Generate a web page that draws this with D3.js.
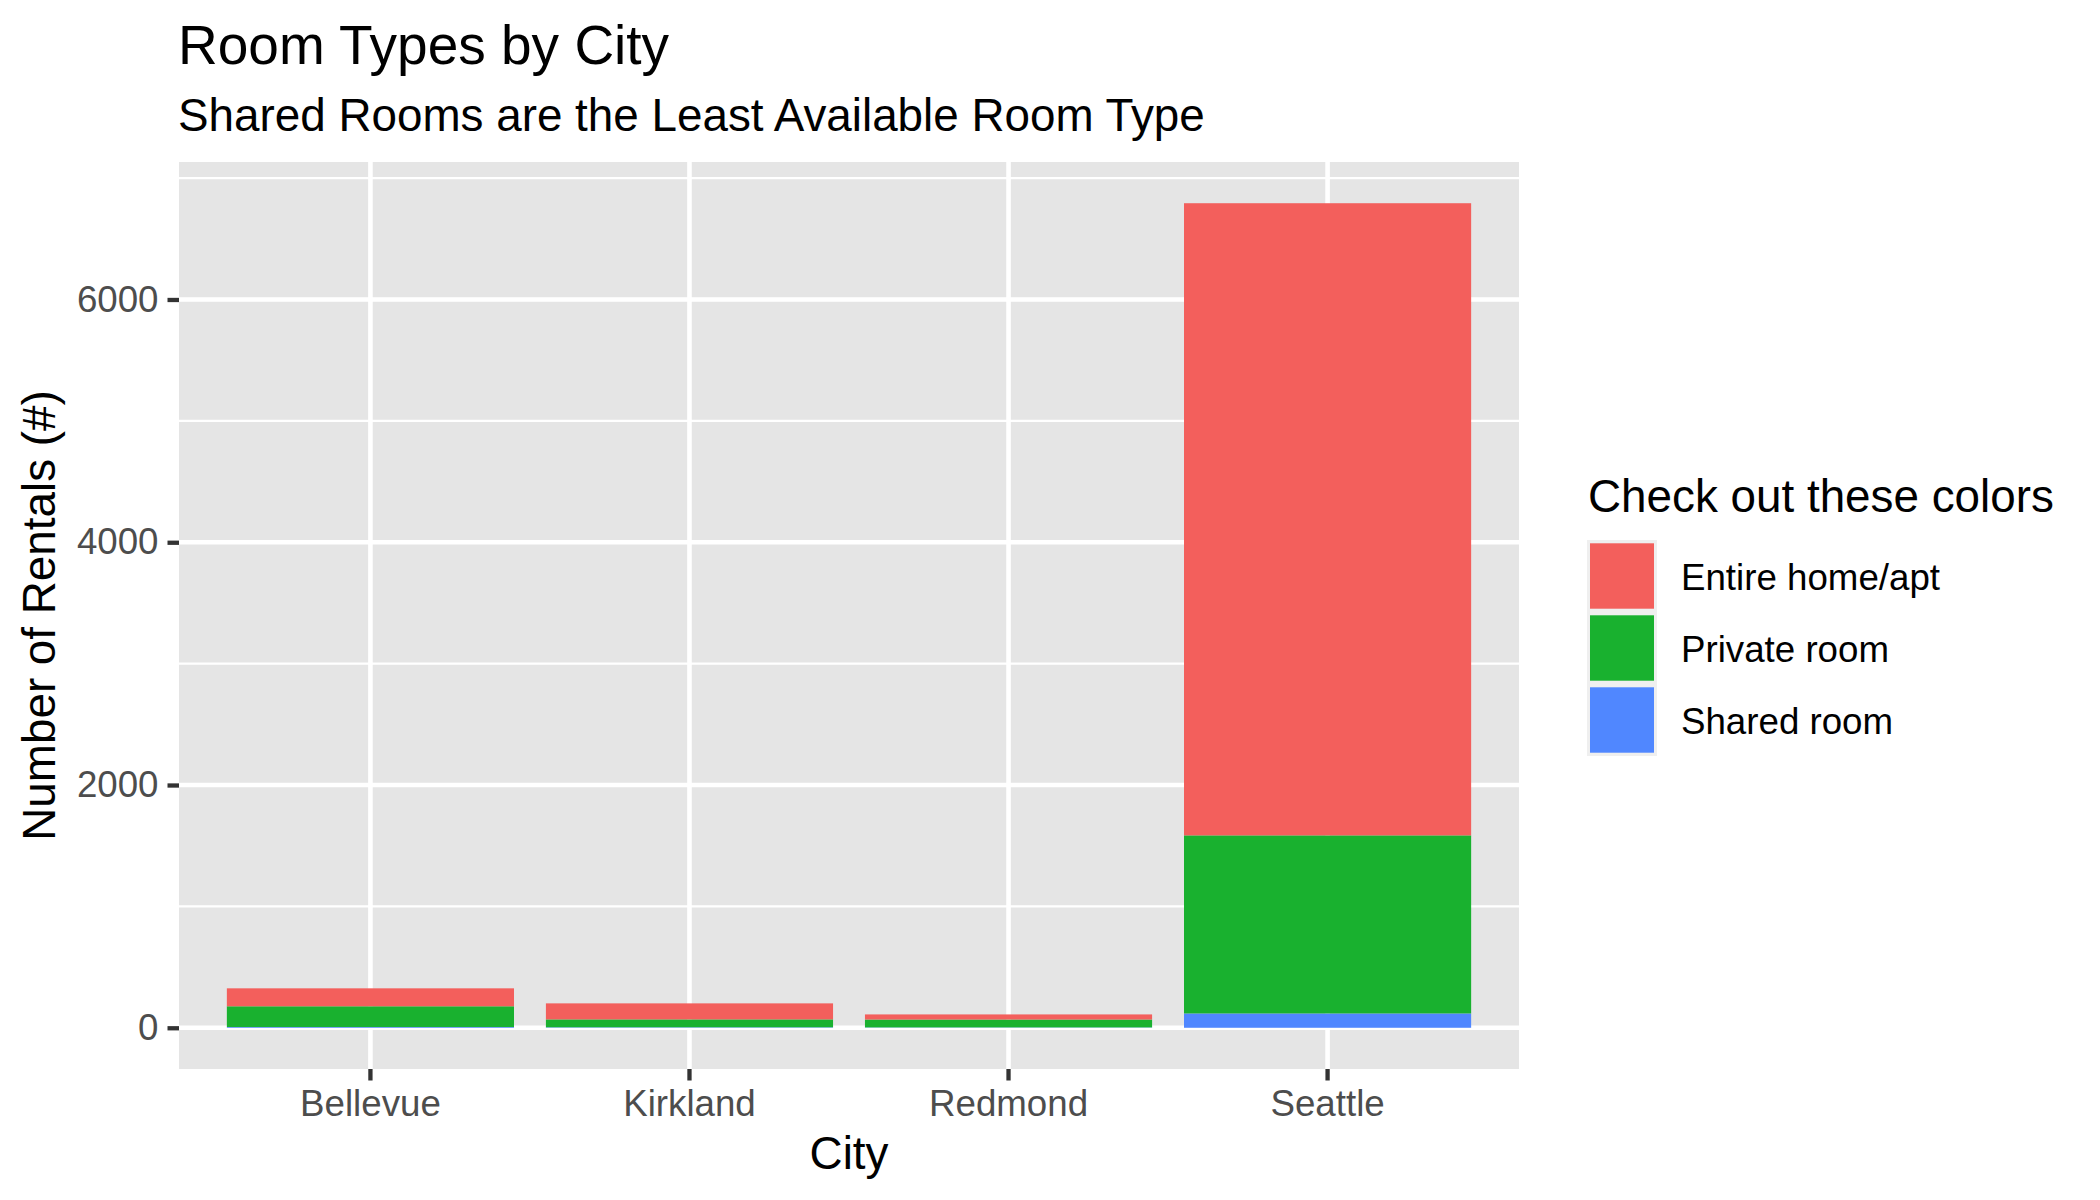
<!DOCTYPE html>
<html>
<head>
<meta charset="utf-8">
<script src="https://cdn.jsdelivr.net/npm/d3@7"></script>
<style>
  body { margin: 0; background: #fff; }
  text { font-family: "Liberation Sans", Arial, Helvetica, sans-serif; }
</style>
</head>
<body>
<div id="container"></div>
<script>
// data
const cities = ["Bellevue", "Kirkland", "Redmond", "Seattle"];
const roomTypes = ["Entire home/apt", "Private room", "Shared room"];
const entireHome = [148, 132, 42, 5208];
const privateRoom = [171, 65, 65, 1467];
const sharedRoom = [6, 4, 3, 118];
const yTicks = [0, 2000, 4000, 6000];
const yMinorTicks = [1000, 3000, 5000, 7000];
const colors = ["#F35F5C", "#19B12F", "#5087FF"];

const W = 2100, H = 1200;
const panel = { left: 179, right: 1519, top: 162, bottom: 1069 };

const svg = d3.create("svg")
  .attr("width", W)
  .attr("height", H);
document.getElementById("container").append(svg.node());

// rows for stacking (shared at bottom, entire home on top like ggplot)
const rows = cities.map((c, i) => ({
  city: c,
  "Entire home/apt": entireHome[i],
  "Private room": privateRoom[i],
  "Shared room": sharedRoom[i]
}));
const stack = d3.stack().keys(roomTypes.slice().reverse())(rows);
const maxTotal = d3.max(rows, d => d["Entire home/apt"] + d["Private room"] + d["Shared room"]);
const pad = maxTotal * 0.05;

const x = d3.scaleBand()
  .domain(cities)
  .range([panel.left, panel.right])
  .paddingInner(0.1)
  .paddingOuter(0.15);

const y = d3.scaleLinear()
  .domain([-pad, maxTotal + pad])
  .range([panel.bottom, panel.top]);

const color = d3.scaleOrdinal().domain(roomTypes).range(colors);

// panel background
svg.append("rect")
  .attr("x", panel.left).attr("y", panel.top)
  .attr("width", panel.right - panel.left)
  .attr("height", panel.bottom - panel.top)
  .attr("fill", "#e5e5e5");

// grid lines
svg.append("g").selectAll("line")
  .data(yMinorTicks.filter(t => y(t) > panel.top))
  .join("line")
  .attr("x1", panel.left).attr("x2", panel.right)
  .attr("y1", d => y(d)).attr("y2", d => y(d))
  .attr("stroke", "#fff").attr("stroke-width", 2.3);

svg.append("g").selectAll("line")
  .data(yTicks)
  .join("line")
  .attr("x1", panel.left).attr("x2", panel.right)
  .attr("y1", d => y(d)).attr("y2", d => y(d))
  .attr("stroke", "#fff").attr("stroke-width", 4.6);

svg.append("g").selectAll("line")
  .data(cities)
  .join("line")
  .attr("x1", d => x(d) + x.bandwidth() / 2).attr("x2", d => x(d) + x.bandwidth() / 2)
  .attr("y1", panel.top).attr("y2", panel.bottom)
  .attr("stroke", "#fff").attr("stroke-width", 4.6);

// stacked bars
svg.append("g").selectAll("g")
  .data(stack)
  .join("g")
  .attr("fill", d => color(d.key))
  .selectAll("rect")
  .data(d => d)
  .join("rect")
  .attr("x", d => x(d.data.city))
  .attr("width", x.bandwidth())
  .attr("y", d => y(d[1]))
  .attr("height", d => y(d[0]) - y(d[1]));

// y axis
const yAxis = svg.append("g")
  .attr("transform", `translate(${panel.left},0)`)
  .call(d3.axisLeft(y).tickValues(yTicks).tickSize(11.5).tickPadding(9).tickFormat(d3.format("d")));
yAxis.select(".domain").remove();
yAxis.selectAll(".tick line").attr("stroke", "#333333").attr("stroke-width", 4.3);
yAxis.selectAll(".tick text")
  .attr("fill", "#4d4d4d")
  .style("font-size", "36.7px")
  .style("font-family", "'Liberation Sans', Arial, sans-serif");

// x axis
const xAxis = svg.append("g")
  .attr("transform", `translate(0,${panel.bottom})`)
  .call(d3.axisBottom(x).tickSize(11.5).tickPadding(9));
xAxis.select(".domain").remove();
xAxis.selectAll(".tick line").attr("stroke", "#333333").attr("stroke-width", 4.3);
xAxis.selectAll(".tick text")
  .attr("fill", "#4d4d4d")
  .style("font-size", "36.7px")
  .style("font-family", "'Liberation Sans', Arial, sans-serif");

// titles
svg.append("text")
  .attr("x", 178).attr("y", 64)
  .style("font-size", "55px")
  .attr("fill", "#000")
  .text("Room Types by City");

svg.append("text")
  .attr("x", 178).attr("y", 131)
  .style("font-size", "45.8px")
  .attr("fill", "#000")
  .text("Shared Rooms are the Least Available Room Type");

svg.append("text")
  .attr("x", (panel.left + panel.right) / 2).attr("y", 1169)
  .attr("text-anchor", "middle")
  .style("font-size", "45.8px")
  .text("City");

svg.append("text")
  .attr("transform", `translate(55,${(panel.top + panel.bottom) / 2}) rotate(-90)`)
  .attr("text-anchor", "middle")
  .style("font-size", "45.8px")
  .text("Number of Rentals (#)");

// legend
const legend = svg.append("g").attr("transform", "translate(1587,540)");
legend.append("text")
  .attr("x", 1).attr("y", -28)
  .style("font-size", "45.8px")
  .text("Check out these colors");

const key = 72;
const items = legend.selectAll("g.item")
  .data(roomTypes)
  .join("g")
  .attr("class", "item")
  .attr("transform", (d, i) => `translate(0,${i * key})`);

items.append("rect")
  .attr("width", key - 2).attr("height", key)
  .attr("fill", "#efefef");
items.append("rect")
  .attr("x", 3).attr("y", 3.3)
  .attr("width", key - 8).attr("height", key - 6.6)
  .attr("fill", d => color(d));
items.append("text")
  .attr("x", 94).attr("y", key / 2 + 14)
  .style("font-size", "36.7px")
  .text(d => d);
</script>
</body>
</html>
